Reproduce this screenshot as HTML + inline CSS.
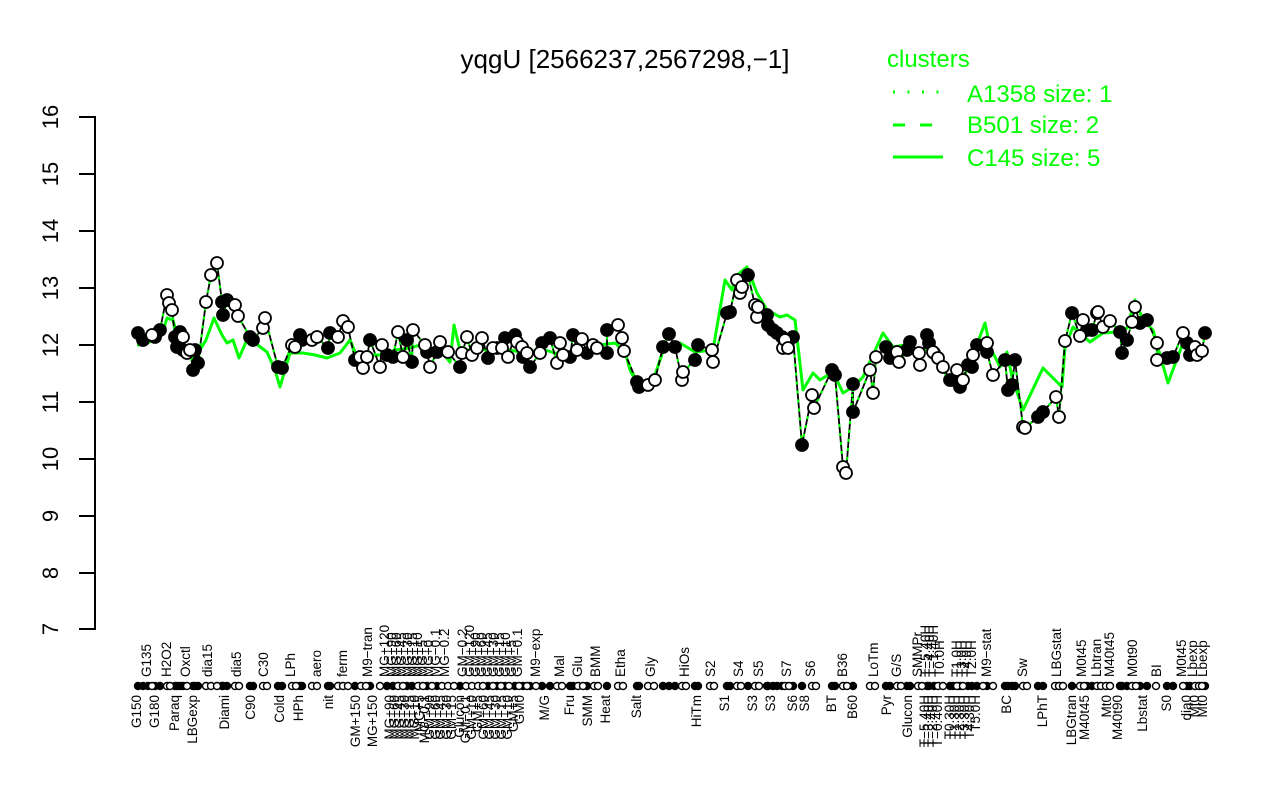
<!DOCTYPE html>
<html><head><meta charset="utf-8"><style>
html,body{margin:0;padding:0;background:#fff;}
svg{display:block;font-family:"Liberation Sans",Arial,sans-serif;}
.xl text{font-size:13.5px;fill:#000;}
.bt text{text-anchor:end;}
</style></head><body>
<svg width="1280" height="800" viewBox="0 0 1280 800" xmlns="http://www.w3.org/2000/svg">
<rect width="1280" height="800" fill="#fff"/>
<text x="625" y="68" font-size="26" text-anchor="middle">yqgU [2566237,2567298,−1]</text>
<!-- y axis -->
<g stroke="#000" stroke-width="2" fill="none">
<line x1="95" y1="116" x2="95" y2="630"/>
<line x1="79" y1="117" x2="95" y2="117"/><line x1="79" y1="174" x2="95" y2="174"/><line x1="79" y1="231" x2="95" y2="231"/><line x1="79" y1="288" x2="95" y2="288"/><line x1="79" y1="345" x2="95" y2="345"/><line x1="79" y1="402" x2="95" y2="402"/><line x1="79" y1="459" x2="95" y2="459"/><line x1="79" y1="516" x2="95" y2="516"/><line x1="79" y1="573" x2="95" y2="573"/><line x1="79" y1="629" x2="95" y2="629"/>
</g>
<g font-size="22" text-anchor="middle">
<text transform="translate(58,117) rotate(-90)">16</text>
<text transform="translate(58,174) rotate(-90)">15</text>
<text transform="translate(58,231) rotate(-90)">14</text>
<text transform="translate(58,288) rotate(-90)">13</text>
<text transform="translate(58,345) rotate(-90)">12</text>
<text transform="translate(58,402) rotate(-90)">11</text>
<text transform="translate(58,459) rotate(-90)">10</text>
<text transform="translate(58,516) rotate(-90)">9</text>
<text transform="translate(58,573) rotate(-90)">8</text>
<text transform="translate(58,629) rotate(-90)">7</text>
</g>
<!-- legend -->
<g fill="#00ff00" font-size="24">
<text x="887" y="67">clusters</text>
<text x="967" y="102">A1358 size: 1</text>
<text x="967" y="133">B501 size: 2</text>
<text x="967" y="166">C145 size: 5</text>
</g>
<g stroke="#00ff00" stroke-width="3">
<line x1="893" y1="92" x2="943" y2="92" stroke-dasharray="2 12.5"/>
<line x1="893" y1="125" x2="943" y2="125" stroke-dasharray="12 15"/>
<line x1="893" y1="157" x2="943" y2="157"/>
</g>
<!-- green cluster line -->
<polyline fill="none" stroke="#00ff00" stroke-width="3" stroke-linejoin="round" points="137,345 145,345 155,338 162,335 167,318 173,320 178,340 183,350 190,355 197,365 200,350 206,340 214,318 222,335 227,343 233,340 239,358 246,342 255,343 267,352 275,370 280,387 285,370 290,353 303,353 315,355 327,358 340,353 350,340 355,352 365,355 380,355 395,350 410,348 420,345 440,350 450,362 454,325 460,350 480,350 500,348 520,352 545,350 555,353 570,355 590,350 600,345 615,343 625,352 630,370 638,385 648,383 655,375 665,345 675,350 680,343 695,352 713,350 725,280 732,290 737,275 747,267 757,293 767,310 780,317 787,315 795,320 803,390 813,373 820,380 833,372 843,393 853,387 863,377 883,333 893,347 905,345 920,355 930,345 940,360 950,385 960,385 970,363 985,323 990,347 1000,367 1007,352 1012,377 1023,410 1043,368 1057,382 1062,387 1065,347 1073,327 1090,342 1103,333 1117,332 1127,328 1135,300 1143,320 1153,330 1168,383 1183,343 1203,357"/>
<!-- black data line -->
<polyline fill="none" stroke="#000" stroke-width="1.8" points="138,333 143,340 152,335 155,337 160,330 167,295 169,303 172,310 175,337 177,347 180,332 183,337 183,350 187,353 190,350 193,370 195,350 198,363 206,302 211,275 217,263 222,302 223,315 227,300 235,305 238,316 250,337 253,340 263,328 265,318 278,367 282,368 292,345 295,347 300,335 302,340 312,340 317,337 328,348 330,333 338,337 343,321 348,327 355,360 360,357 363,368 367,357 370,340 380,367 382,345 387,355 393,357 398,332 403,357 407,340 412,362 413,330 425,345 427,352 430,367 437,352 440,342 448,352 460,367 462,353 467,337 472,355 477,348 482,338 488,358 493,348 497,348 502,348 505,338 508,357 515,335 517,342 522,347 523,357 527,353 530,367 540,353 542,343 550,338 557,363 560,343 563,355 570,357 573,335 577,350 582,339 587,353 593,345 597,348 607,353 607,330 618,325 622,338 624,351 637,382 639,387 648,385 655,380 663,347 669,334 675,347 682,380 683,372 695,360 698,345 712,350 713,362 727,313 730,312 737,280 740,293 742,287 748,275 755,305 757,317 758,307 767,315 768,325 773,330 777,333 782,337 783,348 785,340 788,348 793,337 802,445 812,395 814,408 832,370 835,375 843,467 846,473 853,384 853,412 870,370 873,393 876,357 886,347 890,358 897,352 899,362 907,350 910,342 919,353 920,365 927,335 929,343 933,352 934,353 938,358 943,367 950,380 953,380 957,370 960,387 963,380 968,365 972,367 973,355 977,345 987,343 987,352 993,375 1005,360 1008,390 1012,385 1015,360 1023,427 1025,428 1038,417 1043,412 1056,397 1059,417 1065,341 1072,313 1080,336 1083,320 1087,330 1092,330 1097,313 1098,312 1103,327 1110,321 1120,332 1122,353 1127,340 1132,322 1135,307 1140,323 1147,320 1157,343 1157,360 1167,358 1173,357 1183,333 1187,343 1190,355 1195,347 1197,355 1202,351 1205,333"/>
<polyline fill="none" stroke="#00ff00" stroke-width="2.2" stroke-dasharray="3 6" points="138,333 143,340 152,335 155,337 160,330 167,295 169,303 172,310 175,337 177,347 180,332 183,337 183,350 187,353 190,350 193,370 195,350 198,363 206,302 211,275 217,263 222,302 223,315 227,300 235,305 238,316 250,337 253,340 263,328 265,318 278,367 282,368 292,345 295,347 300,335 302,340 312,340 317,337 328,348 330,333 338,337 343,321 348,327 355,360 360,357 363,368 367,357 370,340 380,367 382,345 387,355 393,357 398,332 403,357 407,340 412,362 413,330 425,345 427,352 430,367 437,352 440,342 448,352 460,367 462,353 467,337 472,355 477,348 482,338 488,358 493,348 497,348 502,348 505,338 508,357 515,335 517,342 522,347 523,357 527,353 530,367 540,353 542,343 550,338 557,363 560,343 563,355 570,357 573,335 577,350 582,339 587,353 593,345 597,348 607,353 607,330 618,325 622,338 624,351 637,382 639,387 648,385 655,380 663,347 669,334 675,347 682,380 683,372 695,360 698,345 712,350 713,362 727,313 730,312 737,280 740,293 742,287 748,275 755,305 757,317 758,307 767,315 768,325 773,330 777,333 782,337 783,348 785,340 788,348 793,337 802,445 812,395 814,408 832,370 835,375 843,467 846,473 853,384 853,412 870,370 873,393 876,357 886,347 890,358 897,352 899,362 907,350 910,342 919,353 920,365 927,335 929,343 933,352 934,353 938,358 943,367 950,380 953,380 957,370 960,387 963,380 968,365 972,367 973,355 977,345 987,343 987,352 993,375 1005,360 1008,390 1012,385 1015,360 1023,427 1025,428 1038,417 1043,412 1056,397 1059,417 1065,341 1072,313 1080,336 1083,320 1087,330 1092,330 1097,313 1098,312 1103,327 1110,321 1120,332 1122,353 1127,340 1132,322 1135,307 1140,323 1147,320 1157,343 1157,360 1167,358 1173,357 1183,333 1187,343 1190,355 1195,347 1197,355 1202,351 1205,333"/>
<!-- points -->
<g stroke="#000" stroke-width="1.8">
<g fill="#000">
<circle cx="138" cy="333" r="6"/><circle cx="143" cy="340" r="6"/><circle cx="155" cy="337" r="6"/><circle cx="160" cy="330" r="6"/><circle cx="175" cy="337" r="6"/><circle cx="177" cy="347" r="6"/><circle cx="180" cy="332" r="6"/><circle cx="183" cy="350" r="6"/><circle cx="193" cy="370" r="6"/><circle cx="195" cy="350" r="6"/><circle cx="198" cy="363" r="6"/><circle cx="222" cy="302" r="6"/><circle cx="223" cy="315" r="6"/><circle cx="227" cy="300" r="6"/><circle cx="250" cy="337" r="6"/><circle cx="253" cy="340" r="6"/><circle cx="278" cy="367" r="6"/><circle cx="282" cy="368" r="6"/><circle cx="300" cy="335" r="6"/><circle cx="302" cy="340" r="6"/><circle cx="328" cy="348" r="6"/><circle cx="330" cy="333" r="6"/><circle cx="355" cy="360" r="6"/><circle cx="370" cy="340" r="6"/><circle cx="387" cy="355" r="6"/><circle cx="393" cy="357" r="6"/>
<circle cx="407" cy="340" r="6"/><circle cx="412" cy="362" r="6"/><circle cx="427" cy="352" r="6"/><circle cx="437" cy="352" r="6"/><circle cx="460" cy="367" r="6"/><circle cx="488" cy="358" r="6"/><circle cx="497" cy="348" r="6"/><circle cx="505" cy="338" r="6"/><circle cx="515" cy="335" r="6"/><circle cx="523" cy="357" r="6"/><circle cx="530" cy="367" r="6"/><circle cx="542" cy="343" r="6"/><circle cx="550" cy="338" r="6"/><circle cx="570" cy="357" r="6"/><circle cx="573" cy="335" r="6"/><circle cx="587" cy="353" r="6"/><circle cx="607" cy="353" r="6"/><circle cx="607" cy="330" r="6"/><circle cx="637" cy="382" r="6"/><circle cx="639" cy="387" r="6"/><circle cx="663" cy="347" r="6"/><circle cx="669" cy="334" r="6"/><circle cx="675" cy="347" r="6"/>
<circle cx="695" cy="360" r="6"/><circle cx="698" cy="345" r="6"/><circle cx="727" cy="313" r="6"/><circle cx="730" cy="312" r="6"/><circle cx="748" cy="275" r="6"/><circle cx="767" cy="315" r="6"/><circle cx="768" cy="325" r="6"/><circle cx="773" cy="330" r="6"/><circle cx="777" cy="333" r="6"/><circle cx="782" cy="337" r="6"/><circle cx="793" cy="337" r="6"/><circle cx="802" cy="445" r="6"/><circle cx="832" cy="370" r="6"/><circle cx="835" cy="375" r="6"/><circle cx="853" cy="384" r="6"/><circle cx="853" cy="412" r="6"/><circle cx="886" cy="347" r="6"/><circle cx="890" cy="358" r="6"/><circle cx="907" cy="350" r="6"/><circle cx="910" cy="342" r="6"/><circle cx="927" cy="335" r="6"/><circle cx="929" cy="343" r="6"/><circle cx="934" cy="353" r="6"/><circle cx="950" cy="380" r="6"/>
<circle cx="953" cy="380" r="6"/><circle cx="960" cy="387" r="6"/><circle cx="968" cy="365" r="6"/><circle cx="972" cy="367" r="6"/><circle cx="977" cy="345" r="6"/><circle cx="987" cy="352" r="6"/><circle cx="1005" cy="360" r="6"/><circle cx="1008" cy="390" r="6"/><circle cx="1012" cy="385" r="6"/><circle cx="1015" cy="360" r="6"/><circle cx="1038" cy="417" r="6"/><circle cx="1043" cy="412" r="6"/><circle cx="1072" cy="313" r="6"/><circle cx="1087" cy="330" r="6"/><circle cx="1092" cy="330" r="6"/><circle cx="1120" cy="332" r="6"/><circle cx="1122" cy="353" r="6"/><circle cx="1127" cy="340" r="6"/><circle cx="1140" cy="323" r="6"/><circle cx="1147" cy="320" r="6"/><circle cx="1167" cy="358" r="6"/><circle cx="1173" cy="357" r="6"/><circle cx="1187" cy="343" r="6"/><circle cx="1190" cy="355" r="6"/><circle cx="1205" cy="333" r="6"/>
</g>
<g fill="#fff">
<circle cx="152" cy="335" r="6"/><circle cx="167" cy="295" r="6"/><circle cx="169" cy="303" r="6"/><circle cx="172" cy="310" r="6"/><circle cx="183" cy="337" r="6"/><circle cx="187" cy="353" r="6"/><circle cx="190" cy="350" r="6"/><circle cx="206" cy="302" r="6"/><circle cx="211" cy="275" r="6"/><circle cx="217" cy="263" r="6"/><circle cx="235" cy="305" r="6"/><circle cx="238" cy="316" r="6"/><circle cx="263" cy="328" r="6"/><circle cx="265" cy="318" r="6"/><circle cx="292" cy="345" r="6"/><circle cx="295" cy="347" r="6"/><circle cx="312" cy="340" r="6"/><circle cx="317" cy="337" r="6"/><circle cx="338" cy="337" r="6"/><circle cx="343" cy="321" r="6"/><circle cx="348" cy="327" r="6"/><circle cx="360" cy="357" r="6"/><circle cx="363" cy="368" r="6"/><circle cx="367" cy="357" r="6"/><circle cx="380" cy="367" r="6"/><circle cx="382" cy="345" r="6"/><circle cx="398" cy="332" r="6"/>
<circle cx="403" cy="357" r="6"/><circle cx="413" cy="330" r="6"/><circle cx="425" cy="345" r="6"/><circle cx="430" cy="367" r="6"/><circle cx="440" cy="342" r="6"/><circle cx="448" cy="352" r="6"/><circle cx="462" cy="353" r="6"/><circle cx="467" cy="337" r="6"/><circle cx="472" cy="355" r="6"/><circle cx="477" cy="348" r="6"/><circle cx="482" cy="338" r="6"/><circle cx="493" cy="348" r="6"/><circle cx="502" cy="348" r="6"/><circle cx="508" cy="357" r="6"/><circle cx="517" cy="342" r="6"/><circle cx="522" cy="347" r="6"/><circle cx="527" cy="353" r="6"/><circle cx="540" cy="353" r="6"/><circle cx="557" cy="363" r="6"/><circle cx="560" cy="343" r="6"/><circle cx="563" cy="355" r="6"/><circle cx="577" cy="350" r="6"/><circle cx="582" cy="339" r="6"/><circle cx="593" cy="345" r="6"/><circle cx="597" cy="348" r="6"/><circle cx="618" cy="325" r="6"/><circle cx="622" cy="338" r="6"/><circle cx="624" cy="351" r="6"/><circle cx="648" cy="385" r="6"/><circle cx="655" cy="380" r="6"/>
<circle cx="682" cy="380" r="6"/><circle cx="683" cy="372" r="6"/><circle cx="712" cy="350" r="6"/><circle cx="713" cy="362" r="6"/><circle cx="737" cy="280" r="6"/><circle cx="740" cy="293" r="6"/><circle cx="742" cy="287" r="6"/><circle cx="755" cy="305" r="6"/><circle cx="757" cy="317" r="6"/><circle cx="758" cy="307" r="6"/><circle cx="783" cy="348" r="6"/><circle cx="785" cy="340" r="6"/><circle cx="788" cy="348" r="6"/><circle cx="812" cy="395" r="6"/><circle cx="814" cy="408" r="6"/><circle cx="843" cy="467" r="6"/><circle cx="846" cy="473" r="6"/><circle cx="870" cy="370" r="6"/><circle cx="873" cy="393" r="6"/><circle cx="876" cy="357" r="6"/><circle cx="897" cy="352" r="6"/><circle cx="899" cy="362" r="6"/><circle cx="919" cy="353" r="6"/><circle cx="920" cy="365" r="6"/><circle cx="933" cy="352" r="6"/><circle cx="938" cy="358" r="6"/><circle cx="943" cy="367" r="6"/>
<circle cx="957" cy="370" r="6"/><circle cx="963" cy="380" r="6"/><circle cx="973" cy="355" r="6"/><circle cx="987" cy="343" r="6"/><circle cx="993" cy="375" r="6"/><circle cx="1023" cy="427" r="6"/><circle cx="1025" cy="428" r="6"/><circle cx="1056" cy="397" r="6"/><circle cx="1059" cy="417" r="6"/><circle cx="1065" cy="341" r="6"/><circle cx="1080" cy="336" r="6"/><circle cx="1083" cy="320" r="6"/><circle cx="1097" cy="313" r="6"/><circle cx="1098" cy="312" r="6"/><circle cx="1103" cy="327" r="6"/><circle cx="1110" cy="321" r="6"/><circle cx="1132" cy="322" r="6"/><circle cx="1135" cy="307" r="6"/><circle cx="1157" cy="343" r="6"/><circle cx="1157" cy="360" r="6"/><circle cx="1183" cy="333" r="6"/><circle cx="1195" cy="347" r="6"/><circle cx="1197" cy="355" r="6"/><circle cx="1202" cy="351" r="6"/>
</g>
</g>
<!-- bottom marker row -->
<g stroke="#000" stroke-width="1.4">
<g fill="#000">
<circle cx="138" cy="686" r="3.5"/><circle cx="143" cy="686" r="3.5"/><circle cx="148" cy="686" r="3.5"/><circle cx="155" cy="686" r="3.5"/><circle cx="160" cy="686" r="3.5"/><circle cx="175" cy="686" r="3.5"/><circle cx="177" cy="686" r="3.5"/><circle cx="180" cy="686" r="3.5"/><circle cx="183" cy="686" r="3.5"/><circle cx="193" cy="686" r="3.5"/><circle cx="195" cy="686" r="3.5"/><circle cx="198" cy="686" r="3.5"/><circle cx="222" cy="686" r="3.5"/><circle cx="223" cy="686" r="3.5"/><circle cx="227" cy="686" r="3.5"/><circle cx="250" cy="686" r="3.5"/><circle cx="253" cy="686" r="3.5"/><circle cx="278" cy="686" r="3.5"/><circle cx="282" cy="686" r="3.5"/><circle cx="300" cy="686" r="3.5"/><circle cx="302" cy="686" r="3.5"/><circle cx="328" cy="686" r="3.5"/><circle cx="330" cy="686" r="3.5"/><circle cx="355" cy="686" r="3.5"/><circle cx="370" cy="686" r="3.5"/><circle cx="387" cy="686" r="3.5"/><circle cx="393" cy="686" r="3.5"/>
<circle cx="407" cy="686" r="3.5"/><circle cx="412" cy="686" r="3.5"/><circle cx="427" cy="686" r="3.5"/><circle cx="437" cy="686" r="3.5"/><circle cx="460" cy="686" r="3.5"/><circle cx="488" cy="686" r="3.5"/><circle cx="497" cy="686" r="3.5"/><circle cx="505" cy="686" r="3.5"/><circle cx="515" cy="686" r="3.5"/><circle cx="523" cy="686" r="3.5"/><circle cx="530" cy="686" r="3.5"/><circle cx="542" cy="686" r="3.5"/><circle cx="550" cy="686" r="3.5"/><circle cx="570" cy="686" r="3.5"/><circle cx="573" cy="686" r="3.5"/><circle cx="587" cy="686" r="3.5"/><circle cx="607" cy="686" r="3.5"/><circle cx="637" cy="686" r="3.5"/><circle cx="639" cy="686" r="3.5"/><circle cx="663" cy="686" r="3.5"/><circle cx="669" cy="686" r="3.5"/><circle cx="675" cy="686" r="3.5"/>
<circle cx="695" cy="686" r="3.5"/><circle cx="698" cy="686" r="3.5"/><circle cx="727" cy="686" r="3.5"/><circle cx="730" cy="686" r="3.5"/><circle cx="748" cy="686" r="3.5"/><circle cx="767" cy="686" r="3.5"/><circle cx="768" cy="686" r="3.5"/><circle cx="773" cy="686" r="3.5"/><circle cx="777" cy="686" r="3.5"/><circle cx="782" cy="686" r="3.5"/><circle cx="793" cy="686" r="3.5"/><circle cx="802" cy="686" r="3.5"/><circle cx="832" cy="686" r="3.5"/><circle cx="835" cy="686" r="3.5"/><circle cx="853" cy="686" r="3.5"/><circle cx="886" cy="686" r="3.5"/><circle cx="890" cy="686" r="3.5"/><circle cx="907" cy="686" r="3.5"/><circle cx="910" cy="686" r="3.5"/><circle cx="927" cy="686" r="3.5"/><circle cx="929" cy="686" r="3.5"/><circle cx="934" cy="686" r="3.5"/><circle cx="950" cy="686" r="3.5"/>
<circle cx="953" cy="686" r="3.5"/><circle cx="960" cy="686" r="3.5"/><circle cx="968" cy="686" r="3.5"/><circle cx="972" cy="686" r="3.5"/><circle cx="977" cy="686" r="3.5"/><circle cx="987" cy="686" r="3.5"/><circle cx="1005" cy="686" r="3.5"/><circle cx="1008" cy="686" r="3.5"/><circle cx="1012" cy="686" r="3.5"/><circle cx="1015" cy="686" r="3.5"/><circle cx="1038" cy="686" r="3.5"/><circle cx="1043" cy="686" r="3.5"/><circle cx="1072" cy="686" r="3.5"/><circle cx="1087" cy="686" r="3.5"/><circle cx="1092" cy="686" r="3.5"/><circle cx="1120" cy="686" r="3.5"/><circle cx="1122" cy="686" r="3.5"/><circle cx="1127" cy="686" r="3.5"/><circle cx="1140" cy="686" r="3.5"/><circle cx="1147" cy="686" r="3.5"/><circle cx="1167" cy="686" r="3.5"/><circle cx="1173" cy="686" r="3.5"/><circle cx="1187" cy="686" r="3.5"/><circle cx="1190" cy="686" r="3.5"/><circle cx="1205" cy="686" r="3.5"/>
</g>
<g fill="#fff">
<circle cx="152" cy="686" r="3.5"/><circle cx="167" cy="686" r="3.5"/><circle cx="170" cy="686" r="3.5"/><circle cx="187" cy="686" r="3.5"/><circle cx="206" cy="686" r="3.5"/><circle cx="211" cy="686" r="3.5"/><circle cx="217" cy="686" r="3.5"/><circle cx="235" cy="686" r="3.5"/><circle cx="239" cy="686" r="3.5"/><circle cx="263" cy="686" r="3.5"/><circle cx="267" cy="686" r="3.5"/><circle cx="292" cy="686" r="3.5"/><circle cx="296" cy="686" r="3.5"/><circle cx="312" cy="686" r="3.5"/><circle cx="317" cy="686" r="3.5"/><circle cx="338" cy="686" r="3.5"/><circle cx="343" cy="686" r="3.5"/><circle cx="348" cy="686" r="3.5"/><circle cx="361" cy="686" r="3.5"/><circle cx="366" cy="686" r="3.5"/><circle cx="380" cy="686" r="3.5"/><circle cx="398" cy="686" r="3.5"/>
<circle cx="403" cy="686" r="3.5"/><circle cx="418" cy="686" r="3.5"/><circle cx="423" cy="686" r="3.5"/><circle cx="432" cy="686" r="3.5"/><circle cx="442" cy="686" r="3.5"/><circle cx="448" cy="686" r="3.5"/><circle cx="454" cy="686" r="3.5"/><circle cx="466" cy="686" r="3.5"/><circle cx="472" cy="686" r="3.5"/><circle cx="478" cy="686" r="3.5"/><circle cx="483" cy="686" r="3.5"/><circle cx="493" cy="686" r="3.5"/><circle cx="501" cy="686" r="3.5"/><circle cx="509" cy="686" r="3.5"/><circle cx="519" cy="686" r="3.5"/><circle cx="527" cy="686" r="3.5"/><circle cx="536" cy="686" r="3.5"/><circle cx="557" cy="686" r="3.5"/><circle cx="562" cy="686" r="3.5"/><circle cx="578" cy="686" r="3.5"/><circle cx="583" cy="686" r="3.5"/><circle cx="594" cy="686" r="3.5"/><circle cx="598" cy="686" r="3.5"/><circle cx="618" cy="686" r="3.5"/><circle cx="623" cy="686" r="3.5"/><circle cx="648" cy="686" r="3.5"/><circle cx="654" cy="686" r="3.5"/>
<circle cx="682" cy="686" r="3.5"/><circle cx="686" cy="686" r="3.5"/><circle cx="710" cy="686" r="3.5"/><circle cx="714" cy="686" r="3.5"/><circle cx="737" cy="686" r="3.5"/><circle cx="741" cy="686" r="3.5"/><circle cx="755" cy="686" r="3.5"/><circle cx="759" cy="686" r="3.5"/><circle cx="785" cy="686" r="3.5"/><circle cx="789" cy="686" r="3.5"/><circle cx="812" cy="686" r="3.5"/><circle cx="816" cy="686" r="3.5"/><circle cx="843" cy="686" r="3.5"/><circle cx="847" cy="686" r="3.5"/><circle cx="870" cy="686" r="3.5"/><circle cx="875" cy="686" r="3.5"/><circle cx="897" cy="686" r="3.5"/><circle cx="901" cy="686" r="3.5"/><circle cx="918" cy="686" r="3.5"/><circle cx="922" cy="686" r="3.5"/><circle cx="938" cy="686" r="3.5"/><circle cx="943" cy="686" r="3.5"/>
<circle cx="957" cy="686" r="3.5"/><circle cx="963" cy="686" r="3.5"/><circle cx="983" cy="686" r="3.5"/><circle cx="993" cy="686" r="3.5"/><circle cx="1023" cy="686" r="3.5"/><circle cx="1027" cy="686" r="3.5"/><circle cx="1055" cy="686" r="3.5"/><circle cx="1059" cy="686" r="3.5"/><circle cx="1063" cy="686" r="3.5"/><circle cx="1080" cy="686" r="3.5"/><circle cx="1084" cy="686" r="3.5"/><circle cx="1097" cy="686" r="3.5"/><circle cx="1101" cy="686" r="3.5"/><circle cx="1106" cy="686" r="3.5"/><circle cx="1110" cy="686" r="3.5"/><circle cx="1132" cy="686" r="3.5"/><circle cx="1136" cy="686" r="3.5"/><circle cx="1156" cy="686" r="3.5"/><circle cx="1183" cy="686" r="3.5"/><circle cx="1195" cy="686" r="3.5"/><circle cx="1199" cy="686" r="3.5"/><circle cx="1202" cy="686" r="3.5"/>
</g>
</g>
<!-- x labels: top row -->
<g class="xl">
<text transform="translate(151,677) rotate(-90)">G135</text>
<text transform="translate(171,677) rotate(-90)">H2O2</text>
<text transform="translate(190,677) rotate(-90)">Oxctl</text>
<text transform="translate(212,677) rotate(-90)">dia15</text>
<text transform="translate(241,677) rotate(-90)">dia5</text>
<text transform="translate(268,677) rotate(-90)">C30</text>
<text transform="translate(295,677) rotate(-90)">LPh</text>
<text transform="translate(321,677) rotate(-90)">aero</text>
<text transform="translate(347,677) rotate(-90)">ferm</text>
<text transform="translate(372,677) rotate(-90)">M9−tran</text>
<text transform="translate(389,677) rotate(-90)">MG+120</text>
<text transform="translate(396,677) rotate(-90)">MG+90</text>
<text transform="translate(401,677) rotate(-90)">MG+60</text>
<text transform="translate(406,677) rotate(-90)">MG+45</text>
<text transform="translate(412,677) rotate(-90)">MG+30</text>
<text transform="translate(417,677) rotate(-90)">MG+15</text>
<text transform="translate(422,677) rotate(-90)">MG+10</text>
<text transform="translate(427,677) rotate(-90)">MG+5</text>
<text transform="translate(433,677) rotate(-90)">MG+0</text>
<text transform="translate(440,677) rotate(-90)">MG−0.1</text>
<text transform="translate(449,677) rotate(-90)">MG−0.2</text>
<text transform="translate(467,677) rotate(-90)">GM−0.2</text>
<text transform="translate(474,677) rotate(-90)">GM+120</text>
<text transform="translate(480,677) rotate(-90)">GM+90</text>
<text transform="translate(486,677) rotate(-90)">GM+60</text>
<text transform="translate(492,677) rotate(-90)">GM+45</text>
<text transform="translate(498,677) rotate(-90)">GM+30</text>
<text transform="translate(504,677) rotate(-90)">GM+15</text>
<text transform="translate(510,677) rotate(-90)">GM+10</text>
<text transform="translate(516,677) rotate(-90)">GM+5</text>
<text transform="translate(522,677) rotate(-90)">GM−0.1</text>
<text transform="translate(540,677) rotate(-90)">M9−exp</text>
<text transform="translate(564,677) rotate(-90)">Mal</text>
<text transform="translate(582,677) rotate(-90)">Glu</text>
<text transform="translate(600,677) rotate(-90)">BMM</text>
<text transform="translate(625,677) rotate(-90)">Etha</text>
<text transform="translate(655,677) rotate(-90)">Gly</text>
<text transform="translate(689,677) rotate(-90)">HiOs</text>
<text transform="translate(715,677) rotate(-90)">S2</text>
<text transform="translate(743,677) rotate(-90)">S4</text>
<text transform="translate(763,677) rotate(-90)">S5</text>
<text transform="translate(791,677) rotate(-90)">S7</text>
<text transform="translate(815,677) rotate(-90)">S6</text>
<text transform="translate(847,677) rotate(-90)">B36</text>
<text transform="translate(878,677) rotate(-90)">LoTm</text>
<text transform="translate(901,677) rotate(-90)">G/S</text>
<text transform="translate(922,677) rotate(-90)">SMMPr</text>
<text transform="translate(930,677) rotate(-90)">T−5.40H</text>
<text transform="translate(934,677) rotate(-90)">T−4.40H</text>
<text transform="translate(938,677) rotate(-90)">T−1.40H</text>
<text transform="translate(944,677) rotate(-90)">T0.0H</text>
<text transform="translate(961,677) rotate(-90)">T1.0H</text>
<text transform="translate(966,677) rotate(-90)">T3.0H</text>
<text transform="translate(971,677) rotate(-90)">T4.0H</text>
<text transform="translate(976,677) rotate(-90)">T2.0H</text>
<text transform="translate(991,677) rotate(-90)">M9−stat</text>
<text transform="translate(1027,677) rotate(-90)">Sw</text>
<text transform="translate(1061,677) rotate(-90)">LBGstat</text>
<text transform="translate(1086,677) rotate(-90)">M0t45</text>
<text transform="translate(1101,677) rotate(-90)">Lbtran</text>
<text transform="translate(1114,677) rotate(-90)">M40t45</text>
<text transform="translate(1137,677) rotate(-90)">M0t90</text>
<text transform="translate(1161,677) rotate(-90)">BI</text>
<text transform="translate(1186,677) rotate(-90)">M0t45</text>
<text transform="translate(1197,677) rotate(-90)">Lbexp</text>
<text transform="translate(1207,677) rotate(-90)">Lbexp</text>
</g>
<!-- x labels: bottom row -->
<g class="xl bt">
<text transform="translate(141,695) rotate(-90)">G150</text>
<text transform="translate(159,695) rotate(-90)">G180</text>
<text transform="translate(179,695) rotate(-90)">Paraq</text>
<text transform="translate(197,695) rotate(-90)">LBGexp</text>
<text transform="translate(229,695) rotate(-90)">Diami</text>
<text transform="translate(255,695) rotate(-90)">C90</text>
<text transform="translate(284,695) rotate(-90)">Cold</text>
<text transform="translate(303,695) rotate(-90)">HPh</text>
<text transform="translate(333,695) rotate(-90)">nit</text>
<text transform="translate(360,695) rotate(-90)">GM+150</text>
<text transform="translate(377,695) rotate(-90)">MG+150</text>
<text transform="translate(394,695) rotate(-90)">MG+90</text>
<text transform="translate(399,695) rotate(-90)">MG+60</text>
<text transform="translate(404,695) rotate(-90)">MG+45</text>
<text transform="translate(409,695) rotate(-90)">MG+30</text>
<text transform="translate(414,695) rotate(-90)">MG+15</text>
<text transform="translate(419,695) rotate(-90)">MG+10</text>
<text transform="translate(424,695) rotate(-90)">MG+5</text>
<text transform="translate(429,695) rotate(-90)">MG−0.1</text>
<text transform="translate(434,695) rotate(-90)">GM+90</text>
<text transform="translate(440,695) rotate(-90)">GM+60</text>
<text transform="translate(445,695) rotate(-90)">GM+45</text>
<text transform="translate(451,695) rotate(-90)">GM+30</text>
<text transform="translate(456,695) rotate(-90)">GM+15</text>
<text transform="translate(464,695) rotate(-90)">Glucon</text>
<text transform="translate(470,695) rotate(-90)">GM−0.1</text>
<text transform="translate(476,695) rotate(-90)">GM+10</text>
<text transform="translate(482,695) rotate(-90)">GM+5</text>
<text transform="translate(488,695) rotate(-90)">GM+60</text>
<text transform="translate(494,695) rotate(-90)">GM+45</text>
<text transform="translate(500,695) rotate(-90)">GM+30</text>
<text transform="translate(506,695) rotate(-90)">GM+15</text>
<text transform="translate(512,695) rotate(-90)">GM+10</text>
<text transform="translate(518,695) rotate(-90)">GM+5</text>
<text transform="translate(524,695) rotate(-90)">GM0</text>
<text transform="translate(549,695) rotate(-90)">M/G</text>
<text transform="translate(574,695) rotate(-90)">Fru</text>
<text transform="translate(592,695) rotate(-90)">SMM</text>
<text transform="translate(610,695) rotate(-90)">Heat</text>
<text transform="translate(641,695) rotate(-90)">Salt</text>
<text transform="translate(701,695) rotate(-90)">HiTm</text>
<text transform="translate(729,695) rotate(-90)">S1</text>
<text transform="translate(757,695) rotate(-90)">S3</text>
<text transform="translate(775,695) rotate(-90)">S3</text>
<text transform="translate(797,695) rotate(-90)">S6</text>
<text transform="translate(809,695) rotate(-90)">S8</text>
<text transform="translate(836,695) rotate(-90)">BT</text>
<text transform="translate(857,695) rotate(-90)">B60</text>
<text transform="translate(891,695) rotate(-90)">Pyr</text>
<text transform="translate(912,695) rotate(-90)">Glucon</text>
<text transform="translate(929,695) rotate(-90)">T−5.40H</text>
<text transform="translate(933,695) rotate(-90)">T−3.40H</text>
<text transform="translate(937,695) rotate(-90)">T−2.40H</text>
<text transform="translate(942,695) rotate(-90)">T−0.40H</text>
<text transform="translate(954,695) rotate(-90)">T0.30H</text>
<text transform="translate(959,695) rotate(-90)">T1.30H</text>
<text transform="translate(964,695) rotate(-90)">T2.30H</text>
<text transform="translate(969,695) rotate(-90)">T3.30H</text>
<text transform="translate(974,695) rotate(-90)">T4.30H</text>
<text transform="translate(980,695) rotate(-90)">T5.0H</text>
<text transform="translate(1011,695) rotate(-90)">BC</text>
<text transform="translate(1047,695) rotate(-90)">LPhT</text>
<text transform="translate(1076,695) rotate(-90)">LBGtran</text>
<text transform="translate(1089,695) rotate(-90)">M40t45</text>
<text transform="translate(1111,695) rotate(-90)">Mt0</text>
<text transform="translate(1122,695) rotate(-90)">M40t90</text>
<text transform="translate(1147,695) rotate(-90)">Lbstat</text>
<text transform="translate(1171,695) rotate(-90)">S0</text>
<text transform="translate(1191,695) rotate(-90)">dia0</text>
<text transform="translate(1199,695) rotate(-90)">Mt0</text>
<text transform="translate(1207,695) rotate(-90)">Mt0</text>
</g>
</svg>
</body></html>
